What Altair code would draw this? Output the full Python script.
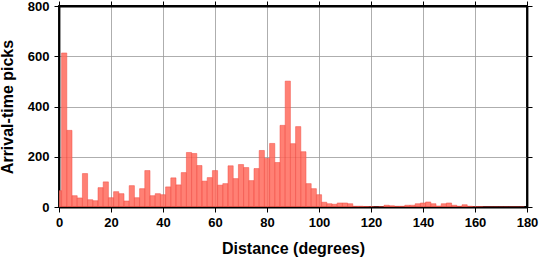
import altair as alt
import pandas as pd

# Histogram bins: 2-degree bins centred on even distances
bin_centers = list(range(0, 180, 2))
counts = [
    65, 613, 305, 45, 36, 133, 29, 25, 77, 100,
    37, 61, 53, 24, 85, 37, 73, 145, 45, 53,
    49, 80, 116, 88, 137, 217, 213, 165, 103, 117,
    145, 87, 93, 164, 113, 169, 157, 105, 153, 225,
    193, 253, 177, 325, 501, 252, 320, 220, 93, 73,
    49, 19, 13, 11, 16, 16, 13, 3, 3, 2,
    1, 0, 1, 7, 5, 3, 3, 7, 7, 13,
    16, 20, 13, 4, 13, 16, 7, 3, 9, 3,
    1, 1, 0, 0, 0, 0, 0, 0, 0, 0,
]
x_ticks = [0, 20, 40, 60, 80, 100, 120, 140, 160, 180]
y_ticks = [0, 200, 400, 600, 800]

df = pd.DataFrame({
    "lo": [c - 1 for c in bin_centers],
    "hi": [c + 1 for c in bin_centers],
    "n": counts,
})

FONT = "Liberation Sans"

xscale = alt.Scale(domain=[0, 180], nice=False, zero=False)
yscale = alt.Scale(domain=[0, 800], nice=False)

bars = alt.Chart(df).mark_rect(
    fill="#ff6a5c", fillOpacity=0.85, stroke="#f04a40", strokeWidth=0.5, clip=True
).encode(
    x=alt.X("lo:Q", scale=xscale, axis=alt.Axis(
        values=x_ticks, title="Distance (degrees)", orient="bottom",
        grid=True, gridColor="#999999", gridWidth=0.8,
        domainColor="black", domainWidth=1.8,
        tickColor="black", tickSize=5, tickWidth=1,
        labelFont=FONT, labelFontSize=13, labelFontWeight="bold", labelColor="black",
        labelPadding=4, labelFlush=False,
        titleFont=FONT, titleFontSize=16, titleFontWeight="bold", titleColor="black",
        titlePadding=11,
    )),
    x2="hi:Q",
    y=alt.Y("n:Q", scale=yscale, axis=alt.Axis(
        values=y_ticks, title="Arrival-time picks", orient="left",
        grid=True, gridColor="#999999", gridWidth=0.8,
        domainColor="black", domainWidth=1.8,
        tickColor="black", tickSize=5, tickWidth=1,
        labelFont=FONT, labelFontSize=13, labelFontWeight="bold", labelColor="black",
        labelPadding=5, labelFlush=False,
        titleFont=FONT, titleFontSize=16, titleFontWeight="bold", titleColor="black",
        titlePadding=12,
    )),
    y2=alt.datum(0),
)

frame = alt.Chart(df).mark_point(opacity=0).encode(
    x=alt.X("lo:Q", scale=xscale, axis=alt.Axis(
        values=x_ticks, orient="top", labels=False, title=None, grid=False,
        domainColor="black", domainWidth=1.8, tickColor="black", tickSize=5, tickWidth=1,
    )),
    y=alt.Y("n:Q", scale=yscale, axis=alt.Axis(
        values=y_ticks, orient="right", labels=False, title=None, grid=False,
        domainColor="black", domainWidth=1.8, tickColor="black", tickSize=5, tickWidth=1,
    )),
)

chart = alt.layer(bars, frame).resolve_axis(x="independent", y="independent").properties(
    width=468, height=201,
    autosize=alt.AutoSizeParams(type="none"),
    padding={"left": 59, "top": 6, "right": 12, "bottom": 51},
    background="white",
).configure_view(stroke="black", strokeWidth=1.8)

chart.save("out.html", embed_options={"renderer": "svg", "actions": False})
